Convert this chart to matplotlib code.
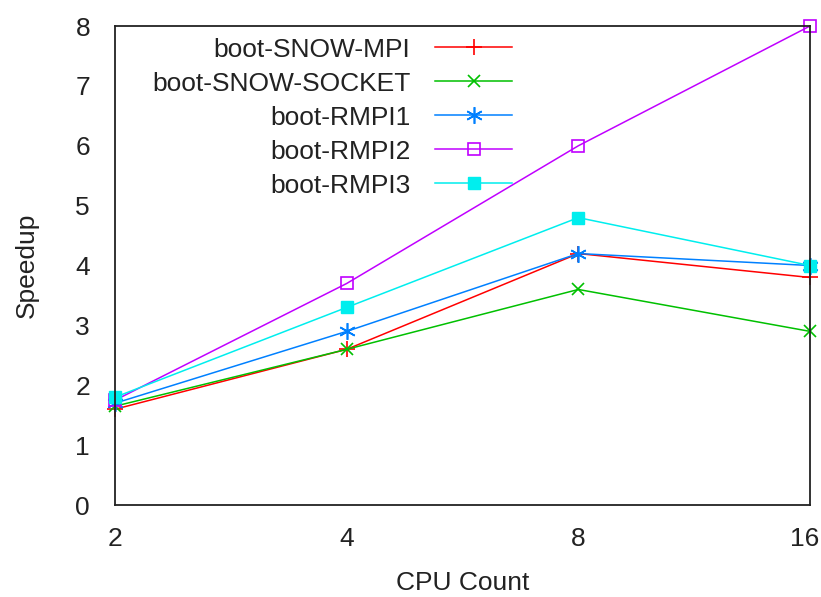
import matplotlib
matplotlib.use("Agg")
import matplotlib.pyplot as plt
from matplotlib.ticker import FixedLocator, FixedFormatter, NullLocator
from matplotlib.transforms import ScaledTranslation

# data
cpus = [2, 4, 8, 16]
snow_mpi = [1.6, 2.6, 4.2, 3.8]
snow_socket = [1.65, 2.6, 3.6, 2.9]
rmpi1 = [1.7, 2.9, 4.2, 4.0]
rmpi2 = [1.75, 3.7, 6.0, 8.0]
rmpi3 = [1.8, 3.3, 4.8, 4.0]

plt.rcParams['font.family'] = ['Liberation Sans', 'DejaVu Sans']

fig = plt.figure(figsize=(8.21, 5.97), dpi=100)
ax = fig.add_axes([0.1401, 0.1541, 0.8465, 0.8023])

ax.plot(cpus, snow_mpi, color='#ff0000', lw=1.1, marker='+', ms=12, mew=1.2,
        label='boot-SNOW-MPI', clip_on=False)
ax.plot(cpus, snow_socket, color='#00c000', lw=1.1, marker='x', ms=9, mew=1.2,
        label='boot-SNOW-SOCKET', clip_on=False)
ax.plot(cpus, rmpi1, color='#0080ff', lw=1.1, marker=(6, 2, 0), ms=12, mew=1.2,
        label='boot-RMPI1', clip_on=False)
ax.plot(cpus, rmpi2, color='#c000ff', lw=1.1, marker='s', ms=9, mew=1.2,
        mfc='none', label='boot-RMPI2', clip_on=False)
ax.plot(cpus, rmpi3, color='#00eeee', lw=1.1, marker='s', ms=9,
        label='boot-RMPI3', clip_on=False)

ax.set_xscale('log', base=2)
ax.set_xlim(2, 16)
ax.set_ylim(0, 8)
ax.xaxis.set_major_locator(FixedLocator(cpus))
ax.xaxis.set_major_formatter(FixedFormatter([str(c) for c in cpus]))
ax.xaxis.set_minor_locator(NullLocator())
ax.set_yticks(range(0, 9))
ax.tick_params(length=0, labelsize=19, labelcolor='#222222')
ax.tick_params(axis='x', pad=16)
ax.tick_params(axis='y', pad=18)
for s in ax.spines.values():
    s.set_linewidth(1.3)
    s.set_color('#222222')

# nudge the last x label in so it stays inside the figure
last = ax.get_xticklabels()[-1]
last.set_transform(last.get_transform() +
                   ScaledTranslation(-5 / 100, 0, fig.dpi_scale_trans))

ax.set_xlabel('CPU Count', fontsize=19, labelpad=14, color='#222222')
ax.set_ylabel('Speedup', fontsize=19, labelpad=26, color='#222222')

leg = ax.legend(loc='upper right', bbox_to_anchor=(0.571, 0.976), frameon=False,
                markerfirst=False, fontsize=19, handlelength=2.9,
                handletextpad=0.95, labelspacing=0.38, borderaxespad=0.0,
                borderpad=0.0)
for col in leg._legend_handle_box.get_children():
    col.align = 'right'
for t in leg.get_texts():
    t.set_color('#222222')

fig.savefig('out.png', dpi=100)
